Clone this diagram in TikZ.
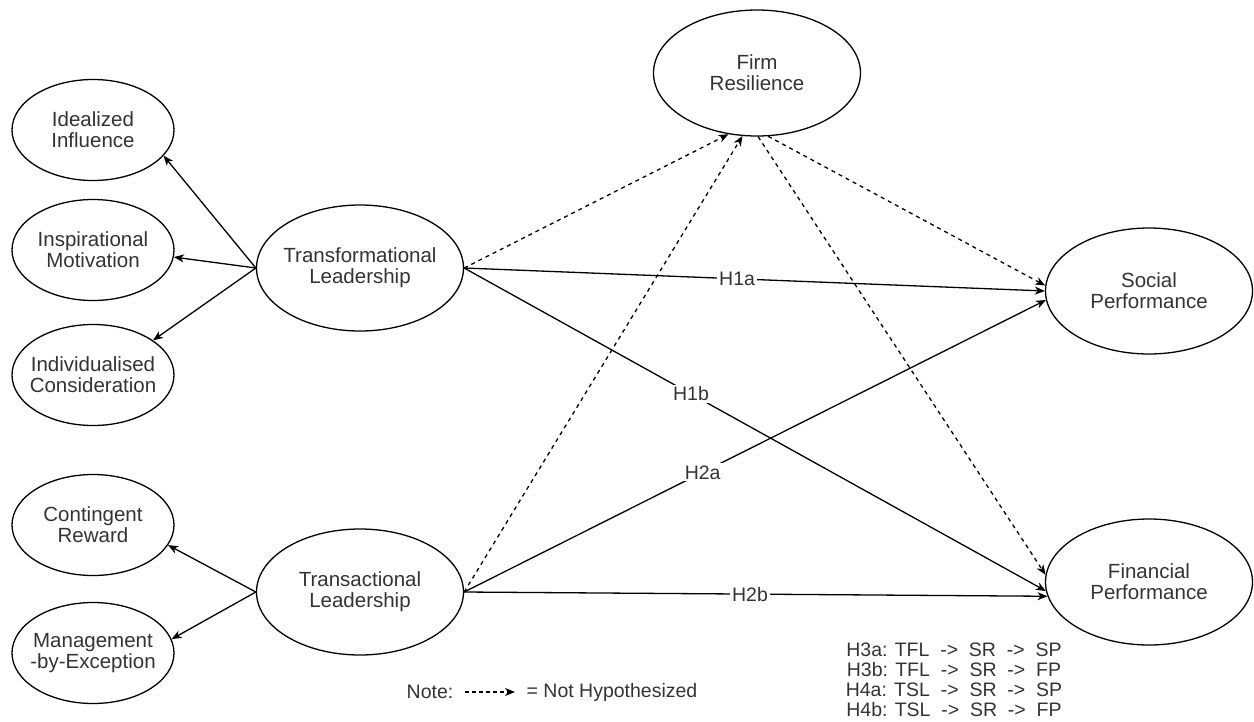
\documentclass[tikz,border=0pt]{standalone}
\usepackage{fontspec}
\setmainfont{Liberation Sans}
\usetikzlibrary{shapes.geometric,arrows.meta}

\begin{document}
\begin{tikzpicture}[x=1pt, y=-1pt, line width=1.3pt,
  construct/.style={ellipse, draw, inner sep=0pt, inner xsep=-8pt, align=center,
    text=black!80, font=\fontsize{20.5}{21}\selectfont},
  dimension/.style={construct, minimum width=162pt, minimum height=101pt},
  latent/.style={construct, minimum width=207pt, minimum height=126pt},
  link/.style={-{Stealth[length=10pt, width=8pt, inset=3pt]}},
  nothyp/.style={link, dash pattern=on 4pt off 4pt},
  hyp/.style={fill=white, inner sep=2pt, text=black!80, font=\fontsize{19.5}{20}\selectfont},
  legend/.style={text=black!80, font=\fontsize{19.5}{20}\selectfont}]
\useasboundingbox (0,0) rectangle (1254,721);

% Dimensions on the left
\node[dimension] (ii) at (93,130) {Idealized\\Influence};
\node[dimension] (im) at (93,250) {Inspirational\\Motivation};
\node[dimension] (ic) at (93,375) {Individualised\\Consideration};
\node[dimension] (cr) at (93,525) {Contingent\\Reward};
\node[dimension] (mbe) at (93,653) {Management\\-by-Exception};

% Main constructs
\node[latent] (tfl) at (360,268) {Transformational\\Leadership};
\node[latent] (tsl) at (360,592) {Transactional\\Leadership};
\node[latent] (fr) at (757,73) {Firm\\Resilience};
\node[latent] (sp) at (1149,291) {Social\\Performance};
\node[latent] (fp) at (1149,582) {Financial\\Performance};

% Leadership -> dimensions
\draw[link] (tfl.west) -- (ii.-20);
\draw[link] (tfl.west) -- (im.-5);
\draw[link] (tfl.west) -- (ic.30);
\draw[link] (tsl.west) -- (cr.-15);
\draw[link] (tsl.west) -- (mbe.10);

% Paths through firm resilience (not hypothesized)
\draw[nothyp] (tfl.east) -- (fr.245);
\draw[nothyp] (tsl.east) -- (fr.257);
\draw[nothyp] (fr.280) -- (sp.177);
\draw[nothyp] (fr.271) -- (fp.176);

% Direct paths
\draw[link] (tfl.east) -- node[hyp, pos=0.47] (h1a) {H1a} (sp.west);
\draw[link] (tfl.east) -- node[hyp, pos=0.39] (h1b) {H1b} (fp.185);
\draw[link] (tsl.east) -- node[hyp, pos=0.41] (h2a) {H2a} (sp.185);
\draw[link] (tsl.east) -- node[hyp, pos=0.49] (h2b) {H2b} (fp.188);

% Legend
\node[legend] (note) at (430,692) {Note:};
\coordinate (nstart) at (465,692);
\coordinate (nend) at (515,692);
\draw[link, dash pattern=on 4pt off 3pt] (nstart) -- (nend);
\node[legend] (notelabel) at (612,692) {= Not Hypothesized};

\node[legend, align=center] (mediation) at (954,680)
  {H3a: TFL~~->~~SR~~->~~SP\\
   H3b: TFL~~->~~SR~~->~~FP\\
   H4a: TSL~~->~~SR~~->~~SP\\
   H4b: TSL~~->~~SR~~->~~FP};
\end{tikzpicture}
\end{document}
